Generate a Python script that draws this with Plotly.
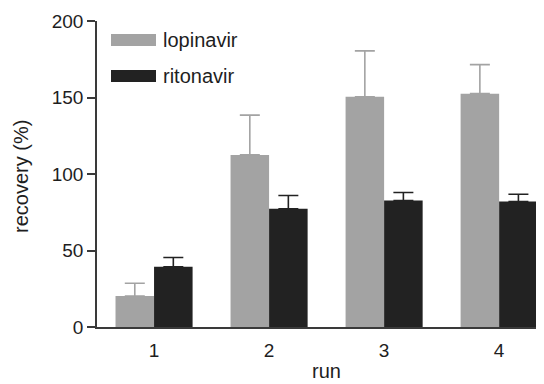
import plotly.graph_objects as go

runs = ["1", "2", "3", "4"]
lopinavir = [20.3, 112.5, 150.5, 152.5]
lopinavir_err = [8.3, 26, 30, 19]
ritonavir = [39.4, 77.3, 82.6, 82.0]
ritonavir_err = [6, 8.6, 5.3, 4.8]

GRAY = "#a3a3a3"
DARK = "#222222"
AX = "#3a3a3a"
TXT = "#1e1e1e"
FONT = "Liberation Sans, Arial, sans-serif"

fig = go.Figure()
fig.add_trace(go.Bar(
    x=runs, y=lopinavir, name="lopinavir", marker=dict(color=GRAY, line_width=0),
    error_y=dict(type="data", array=lopinavir_err, arrayminus=[0]*4, symmetric=False,
                 color=GRAY, thickness=1.6, width=10),
))
fig.add_trace(go.Bar(
    x=runs, y=ritonavir, name="ritonavir", marker=dict(color=DARK, line_width=0),
    error_y=dict(type="data", array=ritonavir_err, arrayminus=[0]*4, symmetric=False,
                 color=DARK, thickness=1.6, width=10),
))

# page offset of the plot area (browser body margin is 8px)
PX0, PY0, PW, PH = 97, 327, 447, 306

def px(x):
    return (x - PX0) / PW

def py(y):
    return (PY0 - y) / PH

legend_items = [("lopinavir", GRAY, 40), ("ritonavir", DARK, 76)]
for label, col, yc in legend_items:
    fig.add_shape(type="rect", xref="paper", yref="paper",
                  x0=px(111), x1=px(156), y0=py(yc + 6), y1=py(yc - 6),
                  fillcolor=col, line_width=0)
    fig.add_annotation(xref="paper", yref="paper", x=px(161), y=py(yc),
                       text=label, showarrow=False, xanchor="left", yanchor="middle",
                       font=dict(family=FONT, size=20, color=TXT))

# axis titles
fig.add_annotation(xref="paper", yref="paper", x=px(326), y=py(383),
                   text="run", showarrow=False, xanchor="center", yanchor="bottom",
                   borderpad=0,
                   font=dict(family=FONT, size=20, color=TXT))
fig.add_annotation(xref="paper", yref="paper", x=px(21), y=py(177),
                   text="recovery (%)", showarrow=False, textangle=-90,
                   xanchor="center", yanchor="middle",
                   font=dict(family=FONT, size=20, color=TXT))

fig.update_layout(
    width=536, height=376,
    margin=dict(l=89, r=0, t=13, b=57, autoexpand=False),
    paper_bgcolor="white", plot_bgcolor="white",
    barmode="group", bargap=0.33, bargroupgap=0,
    showlegend=False,
    font=dict(family=FONT, size=19, color=TXT),
    xaxis=dict(
        type="category", range=[-0.496, 3.39],
        showline=True, linecolor=AX, linewidth=1.5,
        ticks="", showgrid=False, zeroline=False, automargin=False,
        tickfont=dict(size=19), ticklabelstandoff=5,
    ),
    yaxis=dict(
        range=[0, 200], tickvals=[0, 50, 100, 150, 200],
        showline=True, linecolor=AX, linewidth=1.5,
        ticks="outside", ticklen=8, tickwidth=1.5, tickcolor=AX,
        showgrid=False, zeroline=False, automargin=False,
        tickfont=dict(size=19),
    ),
)

fig.write_html("out.html")
